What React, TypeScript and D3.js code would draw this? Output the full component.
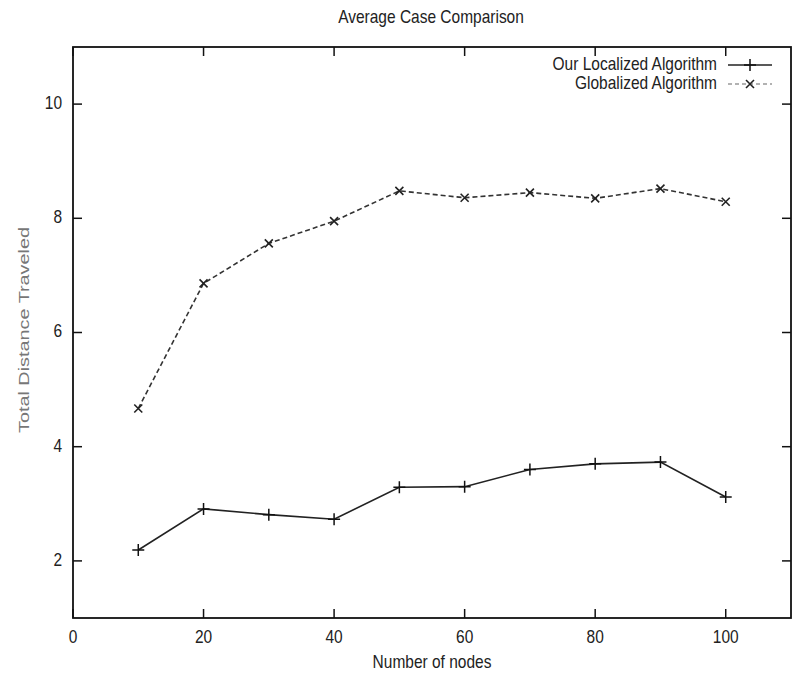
import * as d3 from 'd3';

const nodes = [10, 20, 30, 40, 50, 60, 70, 80, 90, 100];
const localized = [2.19, 2.91, 2.81, 2.73, 3.29, 3.3, 3.6, 3.7, 3.73, 3.12];
const globalized = [4.67, 6.86, 7.56, 7.95, 8.48, 8.36, 8.45, 8.35, 8.52, 8.29];
const xTicks = [0, 20, 40, 60, 80, 100];
const yTicks = [2, 4, 6, 8, 10];

const W = 797;
const H = 676;
const margin = { left: 73, right: 6, top: 47, bottom: 58 };
const font = '"Liberation Sans", Arial, sans-serif';

// the source image is a bit stretched vertically, so the text is too
const Label = ({ x, y, anchor = 'middle', children }: { x: number; y: number; anchor?: string; children: any }) => (
  <text
    transform={`translate(${x},${y}) scale(1,1.2)`}
    textAnchor={anchor}
    dominantBaseline="middle"
    fontSize={15.5}
    fill="#222"
  >
    {children}
  </text>
);

export default function App() {
  const x = d3.scaleLinear().domain([0, 110]).range([margin.left, W - margin.right]);
  const y = d3.scaleLinear().domain([1, 11]).range([H - margin.bottom, margin.top]);
  const line = d3
    .line<number>()
    .x((_, i) => x(nodes[i]))
    .y((d) => y(d));

  const [x0, x1] = x.range();
  const [yb, yt] = y.range();
  const tick = 9;

  const plus = (cx: number, cy: number, k: string) => (
    <path key={k} d={`M${cx - 6},${cy}H${cx + 6}M${cx},${cy - 6}V${cy + 6}`} stroke="#111" strokeWidth={1.5} />
  );
  const cross = (cx: number, cy: number, k: string) => (
    <path key={k} d={`M${cx - 4},${cy - 4}L${cx + 4},${cy + 4}M${cx - 4},${cy + 4}L${cx + 4},${cy - 4}`} stroke="#222" strokeWidth={1.6} />
  );

  return (
    <svg width={W} height={H} style={{ position: 'absolute', left: 0, top: 0, background: '#fff' }} fontFamily={font}>
      <Label x={431} y={18}>Average Case Comparison</Label>

      {/* frame */}
      <rect x={x0} y={yt} width={x1 - x0} height={yb - yt} fill="none" stroke="#111" strokeWidth={1.8} />

      {xTicks.map((t) => (
        <g key={'x' + t}>
          <line x1={x(t)} x2={x(t)} y1={yb} y2={yb - tick} stroke="#111" strokeWidth={1.5} />
          <line x1={x(t)} x2={x(t)} y1={yt} y2={yt + tick} stroke="#111" strokeWidth={1.5} />
          <Label x={x(t)} y={638}>{t}</Label>
        </g>
      ))}
      {yTicks.map((t) => (
        <g key={'y' + t}>
          <line x1={x0} x2={x0 + tick} y1={y(t)} y2={y(t)} stroke="#111" strokeWidth={1.5} />
          <line x1={x1} x2={x1 - tick} y1={y(t)} y2={y(t)} stroke="#111" strokeWidth={1.5} />
          <Label x={62} y={y(t)} anchor="end">{t}</Label>
        </g>
      ))}

      <Label x={432} y={663}>Number of nodes</Label>
      <text
        transform="translate(25,330) rotate(-90)"
        textAnchor="middle"
        dominantBaseline="middle"
        fontSize={15.5}
        textLength={206}
        lengthAdjust="spacingAndGlyphs"
        fill="#777"
      >
        Total Distance Traveled
      </text>

      {/* series */}
      <path d={line(globalized) ?? ''} fill="none" stroke="#333" strokeWidth={1.6} strokeDasharray="5,3" />
      <path d={line(localized) ?? ''} fill="none" stroke="#222" strokeWidth={1.6} />
      {globalized.map((v, i) => cross(x(nodes[i]), y(v), 'g' + i))}
      {localized.map((v, i) => plus(x(nodes[i]), y(v), 'l' + i))}

      {/* legend */}
      <Label x={717} y={65} anchor="end">Our Localized Algorithm</Label>
      <line x1={728} x2={772} y1={65} y2={65} stroke="#222" strokeWidth={1.6} />
      {plus(750, 65, 'lp')}
      <Label x={717} y={84} anchor="end">Globalized Algorithm</Label>
      <line x1={728} x2={772} y1={84} y2={84} stroke="#999" strokeWidth={1.6} strokeDasharray="4,3" />
      {cross(750, 84, 'gp')}
    </svg>
  );
}
